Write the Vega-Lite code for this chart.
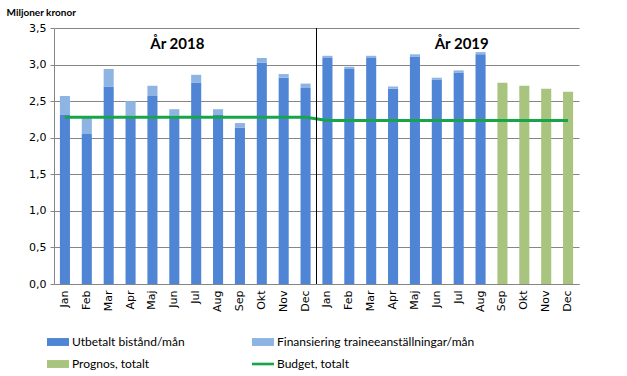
{
  "$schema": "https://vega.github.io/schema/vega-lite/v6.json",
  "width": 525,
  "height": 256,
  "autosize": {"type": "none"},
  "padding": {"left": 54, "top": 28, "right": 48, "bottom": 92},
  "background": "white",
  "config": {"view": {"stroke": null}, "font": "Lato"},
  "datasets": {
    "bars": [
      {"key": "2018-Jan", "series": "Utbetalt bistånd/mån", "value": 2.31},
      {"key": "2018-Jan", "series": "Finansiering traineeanställningar/mån", "value": 0.26},
      {"key": "2018-Feb", "series": "Utbetalt bistånd/mån", "value": 2.05},
      {"key": "2018-Feb", "series": "Finansiering traineeanställningar/mån", "value": 0.22},
      {"key": "2018-Mar", "series": "Utbetalt bistånd/mån", "value": 2.70},
      {"key": "2018-Mar", "series": "Finansiering traineeanställningar/mån", "value": 0.24},
      {"key": "2018-Apr", "series": "Utbetalt bistånd/mån", "value": 2.30},
      {"key": "2018-Apr", "series": "Finansiering traineeanställningar/mån", "value": 0.20},
      {"key": "2018-Maj", "series": "Utbetalt bistånd/mån", "value": 2.57},
      {"key": "2018-Maj", "series": "Finansiering traineeanställningar/mån", "value": 0.14},
      {"key": "2018-Jun", "series": "Utbetalt bistånd/mån", "value": 2.30},
      {"key": "2018-Jun", "series": "Finansiering traineeanställningar/mån", "value": 0.09},
      {"key": "2018-Jul", "series": "Utbetalt bistånd/mån", "value": 2.75},
      {"key": "2018-Jul", "series": "Finansiering traineeanställningar/mån", "value": 0.11},
      {"key": "2018-Aug", "series": "Utbetalt bistånd/mån", "value": 2.31},
      {"key": "2018-Aug", "series": "Finansiering traineeanställningar/mån", "value": 0.08},
      {"key": "2018-Sep", "series": "Utbetalt bistånd/mån", "value": 2.14},
      {"key": "2018-Sep", "series": "Finansiering traineeanställningar/mån", "value": 0.06},
      {"key": "2018-Okt", "series": "Utbetalt bistånd/mån", "value": 3.03},
      {"key": "2018-Okt", "series": "Finansiering traineeanställningar/mån", "value": 0.06},
      {"key": "2018-Nov", "series": "Utbetalt bistånd/mån", "value": 2.82},
      {"key": "2018-Nov", "series": "Finansiering traineeanställningar/mån", "value": 0.05},
      {"key": "2018-Dec", "series": "Utbetalt bistånd/mån", "value": 2.68},
      {"key": "2018-Dec", "series": "Finansiering traineeanställningar/mån", "value": 0.06},
      {"key": "2019-Jan", "series": "Utbetalt bistånd/mån", "value": 3.09},
      {"key": "2019-Jan", "series": "Finansiering traineeanställningar/mån", "value": 0.03},
      {"key": "2019-Feb", "series": "Utbetalt bistånd/mån", "value": 2.94},
      {"key": "2019-Feb", "series": "Finansiering traineeanställningar/mån", "value": 0.03},
      {"key": "2019-Mar", "series": "Utbetalt bistånd/mån", "value": 3.09},
      {"key": "2019-Mar", "series": "Finansiering traineeanställningar/mån", "value": 0.03},
      {"key": "2019-Apr", "series": "Utbetalt bistånd/mån", "value": 2.67},
      {"key": "2019-Apr", "series": "Finansiering traineeanställningar/mån", "value": 0.03},
      {"key": "2019-Maj", "series": "Utbetalt bistånd/mån", "value": 3.11},
      {"key": "2019-Maj", "series": "Finansiering traineeanställningar/mån", "value": 0.03},
      {"key": "2019-Jun", "series": "Utbetalt bistånd/mån", "value": 2.79},
      {"key": "2019-Jun", "series": "Finansiering traineeanställningar/mån", "value": 0.03},
      {"key": "2019-Jul", "series": "Utbetalt bistånd/mån", "value": 2.89},
      {"key": "2019-Jul", "series": "Finansiering traineeanställningar/mån", "value": 0.03},
      {"key": "2019-Aug", "series": "Utbetalt bistånd/mån", "value": 3.14},
      {"key": "2019-Aug", "series": "Finansiering traineeanställningar/mån", "value": 0.03},
      {"key": "2019-Sep", "series": "Prognos, totalt", "value": 2.75},
      {"key": "2019-Okt", "series": "Prognos, totalt", "value": 2.71},
      {"key": "2019-Nov", "series": "Prognos, totalt", "value": 2.67},
      {"key": "2019-Dec", "series": "Prognos, totalt", "value": 2.63}
    ],
    "budget": [
      {"key": "2018-Jan", "value": 2.28}, {"key": "2018-Feb", "value": 2.28},
      {"key": "2018-Mar", "value": 2.28}, {"key": "2018-Apr", "value": 2.28},
      {"key": "2018-Maj", "value": 2.28}, {"key": "2018-Jun", "value": 2.28},
      {"key": "2018-Jul", "value": 2.28}, {"key": "2018-Aug", "value": 2.28},
      {"key": "2018-Sep", "value": 2.28}, {"key": "2018-Okt", "value": 2.28},
      {"key": "2018-Nov", "value": 2.28}, {"key": "2018-Dec", "value": 2.28},
      {"key": "2019-Jan", "value": 2.235}, {"key": "2019-Feb", "value": 2.235},
      {"key": "2019-Mar", "value": 2.235}, {"key": "2019-Apr", "value": 2.235},
      {"key": "2019-Maj", "value": 2.235}, {"key": "2019-Jun", "value": 2.235},
      {"key": "2019-Jul", "value": 2.235}, {"key": "2019-Aug", "value": 2.235},
      {"key": "2019-Sep", "value": 2.235}, {"key": "2019-Okt", "value": 2.235},
      {"key": "2019-Nov", "value": 2.235}, {"key": "2019-Dec", "value": 2.235}
    ],
    "labels": [
      {"key": "2018-Jun", "value": 3.28, "text": "År 2018"},
      {"key": "2019-Jul", "value": 3.28, "text": "År 2019"}
    ]
  },
  "encoding": {
    "x": {
      "field": "key", "type": "nominal",
      "scale": {
        "domain": ["2018-Jan","2018-Feb","2018-Mar","2018-Apr","2018-Maj","2018-Jun","2018-Jul","2018-Aug","2018-Sep","2018-Okt","2018-Nov","2018-Dec","2019-Jan","2019-Feb","2019-Mar","2019-Apr","2019-Maj","2019-Jun","2019-Jul","2019-Aug","2019-Sep","2019-Okt","2019-Nov","2019-Dec"],
        "paddingInner": 0, "paddingOuter": 0
      },
      "axis": {
        "title": null,
        "labelExpr": "split(datum.value, '-')[1]",
        "labelAngle": -90,
        "labelAlign": "right",
        "labelBaseline": "middle",
        "labelFont": "DejaVu Sans",
        "labelFontSize": 11,
        "labelColor": "#000000",
        "labelPadding": 6,
        "ticks": false,
        "domainColor": "#868686",
        "grid": false
      }
    },
    "y": {
      "field": "value", "type": "quantitative",
      "scale": {"domain": [0, 3.5], "nice": false},
      "axis": {
        "values": [0, 0.5, 1, 1.5, 2, 2.5, 3, 3.5],
        "labelOverlap": false,
        "labelExpr": "replace(format(datum.value, '.1f'), '.', ',')",
        "labelFont": "DejaVu Sans",
        "labelFontSize": 11,
        "labelColor": "#000000",
        "labelPadding": 4,
        "tickSize": 4,
        "tickColor": "#868686",
        "domainColor": "#868686",
        "gridColor": "#868686",
        "gridOpacity": 1,
        "title": "Miljoner kronor",
        "titleAngle": 0,
        "titleAlign": "left",
        "titleBaseline": "middle",
        "titleX": -48,
        "titleY": -16,
        "titleFont": "Lato",
        "titleFontSize": 10,
        "titleFontWeight": "bold",
        "titleColor": "#000000"
      }
    }
  },
  "layer": [
    {
      "data": {"name": "bars"},
      "mark": {"type": "bar", "width": {"band": 0.46}},
      "encoding": {
        "y": {"field": "value", "type": "quantitative", "stack": "zero"},
        "color": {
          "field": "series", "type": "nominal",
          "scale": {
            "domain": ["Utbetalt bistånd/mån", "Prognos, totalt", "Finansiering traineeanställningar/mån", "Budget, totalt"],
            "range": ["#5085D5", "#A9C47F", "#8DB4E3", "#17A54A"]
          },
          "legend": {
            "title": null,
            "orient": "none",
            "legendX": -7,
            "legendY": 303,
            "columns": 2,
            "columnPadding": 67,
            "rowPadding": 5,
            "padding": 0,
            "symbolSize": 484,
            "symbolStrokeWidth": 0,
            "labelFont": "Lato",
            "labelFontSize": 12,
            "labelColor": "#000000",
            "labelOffset": 3,
            "labelLimit": 300,
            "encode": {
              "symbols": {
                "update": {
                  "shape": {"signal": "datum.value === 'Budget, totalt' ? 'M-1,-0.12H1V0.12H-1Z' : 'M-1,-0.36H1V0.36H-1Z'"},
                  "strokeWidth": {"value": 0}
                }
              }
            }
          }
        },
        "order": {"field": "series", "sort": "descending"}
      }
    },
    {
      "data": {"name": "budget"},
      "mark": {"type": "line", "color": "#17A54A", "strokeWidth": 3},
      "encoding": {}
    },
    {
      "data": {"values": [{"key": "2019-Jan"}]},
      "mark": {"type": "rule", "color": "#000000", "strokeWidth": 1},
      "encoding": {
        "x": {"field": "key", "type": "nominal", "bandPosition": 0},
        "y": null
      }
    },
    {
      "data": {"name": "labels"},
      "mark": {"type": "text", "font": "Lato", "fontWeight": "bold", "fontSize": 15, "dx": 3, "color": "#000000"},
      "encoding": {
        "text": {"field": "text"}
      }
    }
  ]
}
